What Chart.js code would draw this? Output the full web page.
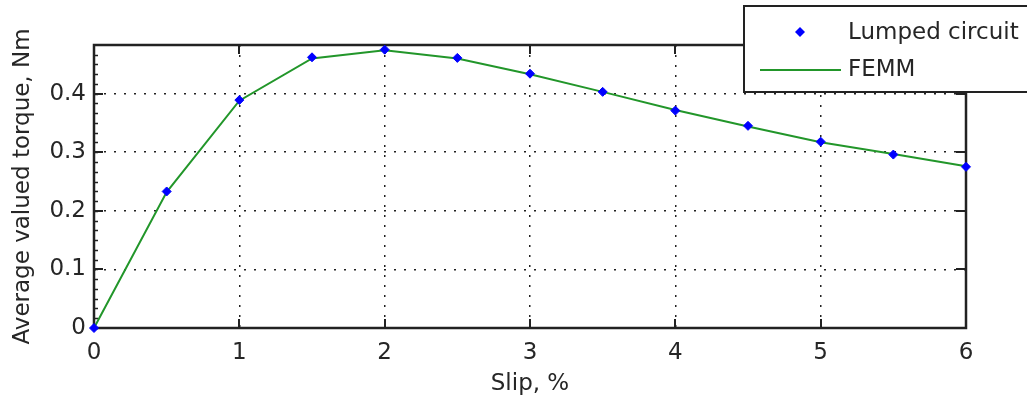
<!DOCTYPE html>
<html>
<head>
<meta charset="utf-8">
<title>Torque vs slip</title>
<script src="https://cdn.jsdelivr.net/npm/chart.js@4.4.1/dist/chart.umd.min.js"></script>
<style>
    html, body { margin: 0; padding: 0; background: #fff; }
    #wrap { width: 1027px; height: 398px; position: relative; }
</style>
</head>
<body>
<div id="wrap"><canvas id="torqueChart" width="1027" height="398"></canvas></div>
<script>
// Slip values (%) and average torque (Nm)
const slip = [0, 0.5, 1, 1.5, 2, 2.5, 3, 3.5, 4, 4.5, 5, 5.5, 6];
const lumpedTorque = [0, 0.233, 0.389, 0.462, 0.475, 0.461, 0.434, 0.403, 0.371, 0.345, 0.318, 0.296, 0.275];
const femmTorque = [0, 0.232, 0.388, 0.460, 0.474, 0.460, 0.433, 0.403, 0.372, 0.344, 0.317, 0.297, 0.276];
const seriesNames = ['Lumped circuit', 'FEMM'];
const xTicks = [0, 1, 2, 3, 4, 5, 6];
const yTicks = [0, 0.1, 0.2, 0.3, 0.4];
const yMax = 0.483;

const FONT = 'DejaVu Sans';
const TEXT = '#262626';
const GREEN = '#22962a';
const BLUE = '#0000ff';

const toPoints = (xs, ys) => xs.map((x, i) => ({ x: x, y: ys[i] }));

// Box, inward tick marks and minor ticks on the left edge
const framePlugin = {
    id: 'frame',
    beforeDatasetsDraw(chart) {
        const { ctx, chartArea: a, scales } = chart;
        ctx.save();
        ctx.strokeStyle = '#222';
        ctx.lineWidth = 1.5;
        ctx.beginPath();
        // minor ticks, left side only
        for (let v = 0; v < yMax; v += 0.1 / 6) {
            const y = Math.round(scales.y.getPixelForValue(v)) + 0.5;
            ctx.moveTo(a.left, y);
            ctx.lineTo(a.left + 4, y);
        }
        ctx.stroke();
        ctx.lineWidth = 2;
        ctx.beginPath();
        yTicks.forEach(v => {
            const y = Math.round(scales.y.getPixelForValue(v));
            ctx.moveTo(a.left, y); ctx.lineTo(a.left + 9, y);
            ctx.moveTo(a.right, y); ctx.lineTo(a.right - 10, y);
        });
        xTicks.forEach(v => {
            const x = Math.round(scales.x.getPixelForValue(v));
            ctx.moveTo(x, a.bottom); ctx.lineTo(x, a.bottom - 9);
            ctx.moveTo(x, a.top); ctx.lineTo(x, a.top + 9);
        });
        ctx.stroke();
        ctx.lineWidth = 2.5;
        ctx.strokeRect(a.left, a.top, a.right - a.left, a.bottom - a.top);
        ctx.restore();
    }
};

// Legend box in the upper right corner
const legendPlugin = {
    id: 'boxLegend',
    afterDraw(chart) {
        const ctx = chart.ctx;
        const bx = 744, by = 6, bw = 300, bh = 86;
        ctx.save();
        ctx.fillStyle = '#fff';
        ctx.fillRect(bx, by, bw, bh);
        ctx.strokeStyle = '#222';
        ctx.lineWidth = 2;
        ctx.strokeRect(bx, by, bw, bh);

        // marker entry
        ctx.fillStyle = BLUE;
        ctx.beginPath();
        ctx.moveTo(800, 27); ctx.lineTo(805, 32); ctx.lineTo(800, 37); ctx.lineTo(795, 32);
        ctx.closePath();
        ctx.fill();

        // line entry
        ctx.strokeStyle = GREEN;
        ctx.lineWidth = 2;
        ctx.beginPath();
        ctx.moveTo(760, 70); ctx.lineTo(841, 70);
        ctx.stroke();

        ctx.fillStyle = TEXT;
        ctx.font = '23px "' + FONT + '"';
        ctx.textBaseline = 'middle';
        ctx.fillText(seriesNames[0], 848, 33);
        ctx.fillText(seriesNames[1], 848, 70);
        ctx.restore();
    }
};

function keepListed(list) {
    return function(scale) {
        scale.ticks = scale.ticks.filter(t => list.some(v => Math.abs(v - t.value) < 1e-9));
    };
}

function initializeChart() {
    const ctx = document.getElementById('torqueChart');
    new Chart(ctx, {
        type: 'line',
        data: {
            datasets: [{
                label: seriesNames[1],
                data: toPoints(slip, femmTorque),
                borderColor: GREEN,
                borderWidth: 2,
                pointRadius: 0,
                tension: 0,
                fill: false,
                clip: false,
                order: 2
            }, {
                label: seriesNames[0],
                data: toPoints(slip, lumpedTorque),
                showLine: false,
                pointStyle: 'rectRot',
                pointRadius: 4.5,
                pointBackgroundColor: BLUE,
                pointBorderColor: BLUE,
                pointBorderWidth: 1,
                clip: false,
                order: 1
            }]
        },
        options: {
            responsive: false,
            animation: false,
            layout: { padding: { left: 0, top: 45, right: 61, bottom: 0 } },
            plugins: {
                legend: { display: false },
                tooltip: { enabled: false }
            },
            scales: {
                x: {
                    type: 'linear',
                    min: 0,
                    max: 6,
                    afterBuildTicks: keepListed(xTicks),
                    afterFit: scale => { scale.height = 70; },
                    ticks: {
                        stepSize: 1,
                        color: TEXT,
                        padding: 11,
                        maxRotation: 0,
                        font: { family: FONT, size: 23 }
                    },
                    grid: {
                        color: '#222',
                        lineWidth: 1.5,
                        drawTicks: false,
                        tickLength: 0
                    },
                    border: { display: false, dash: [2, 8] },
                    title: {
                        display: true,
                        text: 'Slip, %',
                        color: TEXT,
                        padding: 0,
                        font: { family: FONT, size: 23 }
                    }
                },
                y: {
                    min: 0,
                    max: yMax,
                    afterBuildTicks: keepListed(yTicks),
                    afterFit: scale => { scale.width = 94; },
                    ticks: {
                        stepSize: 0.1,
                        color: TEXT,
                        padding: 8,
                        font: { family: FONT, size: 23 },
                        callback: v => String(Math.round(v * 10) / 10)
                    },
                    grid: {
                        color: '#222',
                        lineWidth: 1.5,
                        drawTicks: false,
                        tickLength: 0
                    },
                    border: { display: false, dash: [2, 8] },
                    title: {
                        display: true,
                        text: 'Average valued torque, Nm',
                        color: TEXT,
                        padding: { top: 9, bottom: 0 },
                        font: { family: FONT, size: 23 }
                    }
                }
            }
        },
        plugins: [framePlugin, legendPlugin]
    });
}

document.addEventListener('DOMContentLoaded', function() {
    initializeChart();
});
</script>
</body>
</html>
